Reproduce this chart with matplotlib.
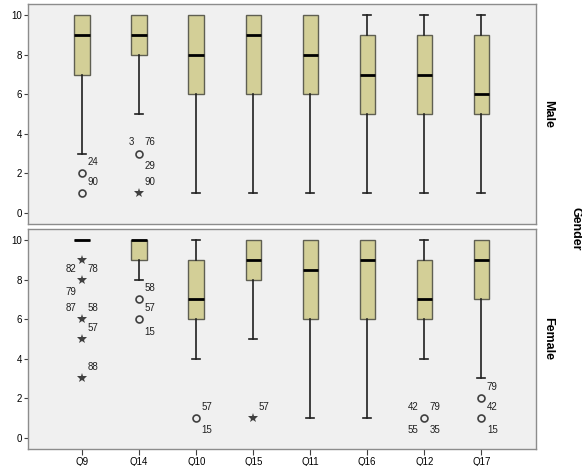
import matplotlib
matplotlib.use('Agg')
import matplotlib.pyplot as plt

plt.rcParams['font.family'] = ['Liberation Sans', 'DejaVu Sans']

questions = ['Q9', 'Q14', 'Q10', 'Q15', 'Q11', 'Q16', 'Q12', 'Q17']

# five-number summaries per question: (whislo, q1, med, q3, whishi)
male_stats = [
    (3, 7, 9, 10, 10),
    (5, 8, 9, 10, 10),
    (1, 6, 8, 10, 10),
    (1, 6, 9, 10, 10),
    (1, 6, 8, 10, 10),
    (1, 5, 7, 9, 10),
    (1, 5, 7, 9, 10),
    (1, 5, 6, 9, 10),
]
female_stats = [
    (10, 10, 10, 10, 10),
    (8, 9, 10, 10, 10),
    (4, 6, 7, 9, 10),
    (5, 8, 9, 10, 10),
    (1, 6, 8.5, 10, 10),
    (1, 6, 9, 10, 10),
    (4, 6, 7, 9, 10),
    (3, 7, 9, 10, 10),
]

# outliers: (question index, value, kind, [(case label, corner), ...])
male_outliers = [
    (0, 2, 'o', [('24', 'ur')]),
    (0, 1, 'o', [('90', 'ur')]),
    (1, 3, 'o', [('3', 'ul'), ('76', 'ur'), ('29', 'lr')]),
    (1, 1, '*', [('90', 'ur')]),
]
female_outliers = [
    (0, 9, '*', []),
    (0, 8, '*', [('82', 'ul'), ('78', 'ur'), ('79', 'll')]),
    (0, 6, '*', [('87', 'ul'), ('58', 'ur')]),
    (0, 5, '*', [('57', 'ur')]),
    (0, 3, '*', [('88', 'ur')]),
    (1, 7, 'o', [('58', 'ur')]),
    (1, 6, 'o', [('57', 'ur'), ('15', 'lr')]),
    (2, 1, 'o', [('57', 'ur'), ('15', 'lr')]),
    (3, 1, '*', [('57', 'ur')]),
    (6, 1, 'o', [('42', 'ul'), ('79', 'ur'), ('55', 'll'), ('35', 'lr')]),
    (7, 2, 'o', [('79', 'ur')]),
    (7, 1, 'o', [('42', 'ur'), ('15', 'lr')]),
]

panel_bg = '#f0f0f0'
box_fill = '#d3cf97'
box_edge = '#5f5f52'
frame_col = '#8c8c8c'
mark_col = '#404040'

corner_offsets = {
    'ur': (4, 8, 'left'),
    'ul': (-4, 8, 'right'),
    'lr': (4, -9, 'left'),
    'll': (-4, -9, 'right'),
}

fig = plt.figure(figsize=(5.82, 4.66), dpi=100)
ax_top = fig.add_axes([0.0481, 0.5193, 0.8729, 0.4721])
ax_bot = fig.add_axes([0.0481, 0.0365, 0.8729, 0.4721])


def draw_panel(ax, stats, outliers, label):
    ax.set_facecolor(panel_bg)
    boxes = []
    for (lo, q1, med, q3, hi), name in zip(stats, questions):
        boxes.append({'whislo': lo, 'q1': q1, 'med': med, 'q3': q3,
                      'whishi': hi, 'label': name})
    pos = list(range(1, len(questions) + 1))
    parts = ax.bxp(boxes, positions=pos, widths=0.27, showfliers=False,
                   patch_artist=True,
                   boxprops=dict(facecolor=box_fill, edgecolor=box_edge, linewidth=1.0),
                   medianprops=dict(color='black', linewidth=2.0),
                   whiskerprops=dict(color='#202020', linewidth=1.2),
                   capprops=dict(color='#202020', linewidth=1.2),
                   capwidths=0.14)

    # no cap where the whisker has zero length
    for i, b in enumerate(boxes):
        if b['whislo'] == b['q1']:
            parts['caps'][2 * i].set_visible(False)
        if b['whishi'] == b['q3']:
            parts['caps'][2 * i + 1].set_visible(False)

    for idx, val, kind, labels in outliers:
        x = idx + 1
        if kind == 'o':
            ax.plot(x, val, 'o', ms=5, mfc='none', mec=mark_col, mew=1.2)
        else:
            ax.plot(x, val, '*', ms=7, color=mark_col, mew=0)
        for text, corner in labels:
            dx, dy, ha = corner_offsets[corner]
            ax.annotate(text, (x, val), xytext=(dx, dy), textcoords='offset points',
                        ha=ha, va='center', fontsize=7, color='#202020')

    ax.set_xlim(0.05, 8.96)
    ax.set_ylim(-0.57, 10.57)
    ax.set_yticks([0, 2, 4, 6, 8, 10])
    ax.tick_params(axis='y', length=3, labelsize=7, pad=1.5, color='#404040')
    for s in ax.spines.values():
        s.set_color(frame_col)
        s.set_linewidth(1.0)
    ax.text(1.012, 0.5, label, transform=ax.transAxes, rotation=-90,
            ha='left', va='center', fontsize=9, fontweight='bold')


draw_panel(ax_top, male_stats, male_outliers, 'Male')
draw_panel(ax_bot, female_stats, female_outliers, 'Female')

ax_top.set_xticks([])
ax_bot.set_xticks(range(1, len(questions) + 1))
ax_bot.set_xticklabels(questions)
ax_bot.tick_params(axis='x', length=4, labelsize=7, pad=2, color='#404040')

fig.text(0.988, 0.51, 'Gender', rotation=-90, ha='center', va='center',
         fontsize=9, fontweight='bold')

fig.savefig('out.png', dpi=100)
